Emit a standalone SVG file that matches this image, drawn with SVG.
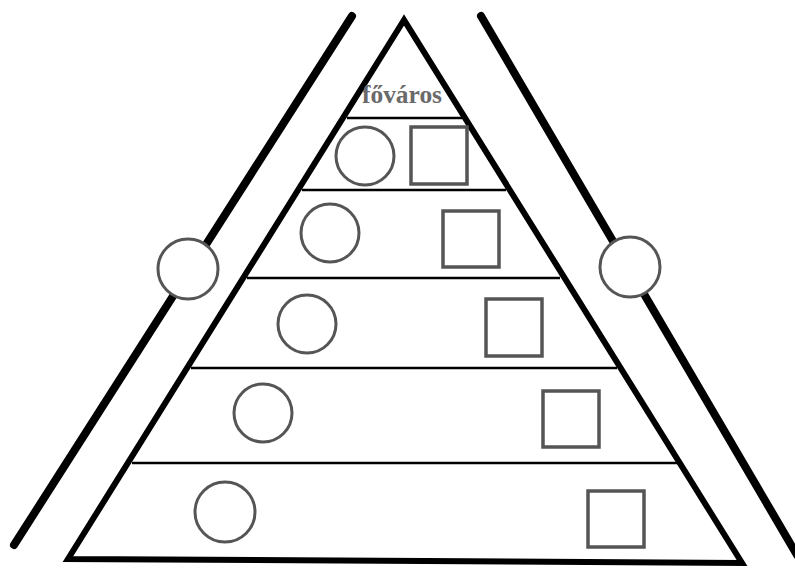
<svg xmlns="http://www.w3.org/2000/svg" width="795" height="570" viewBox="0 0 795 570">
<style>
.bold{stroke:#000;stroke-width:8;stroke-linecap:round;fill:none}
.tri{stroke:#000;stroke-width:6;stroke-linejoin:miter;fill:none}
.hl{stroke:#000;stroke-width:2.5}
.c{fill:#fff;stroke:#555;stroke-width:3}
.s{fill:#fff;stroke:#555;stroke-width:3.5}
.t{font-family:"Liberation Serif",serif;font-weight:bold;font-size:25px;fill:#6a6a6a}
</style>
<rect width="795" height="570" fill="#fff"/>
<g id="outer-lines">
<line class="bold" x1="352" y1="16" x2="14" y2="545"/>
<line class="bold" x1="481" y1="16" x2="797" y2="555"/>
</g>
<g id="pyramid">
<path class="tri" d="M404,20 L68,559 L742,563 Z"/>
<line class="hl" x1="347" y1="118" x2="462" y2="118"/>
<line class="hl" x1="302" y1="190" x2="506" y2="190"/>
<line class="hl" x1="247" y1="278" x2="560" y2="278"/>
<line class="hl" x1="191" y1="368" x2="617" y2="368"/>
<line class="hl" x1="132" y1="463" x2="678" y2="463"/>
</g>
<g id="label">
<text class="t" x="362" y="103" textLength="80" lengthAdjust="spacingAndGlyphs">főváros</text>
</g>
<g id="left-node"><circle class="c" cx="188" cy="269" r="30"/></g>
<g id="right-node"><circle class="c" cx="630" cy="267" r="30"/></g>
<g id="row1"><circle class="c" cx="365" cy="156" r="29"/><rect class="s" x="411" y="127" width="56" height="57"/></g>
<g id="row2"><circle class="c" cx="330" cy="233" r="29"/><rect class="s" x="443" y="211" width="56" height="56"/></g>
<g id="row3"><circle class="c" cx="307" cy="324" r="29"/><rect class="s" x="486" y="299" width="56" height="57"/></g>
<g id="row4"><circle class="c" cx="263" cy="413" r="29"/><rect class="s" x="543" y="391" width="56" height="56"/></g>
<g id="row5"><circle class="c" cx="225" cy="512" r="30"/><rect class="s" x="588" y="491" width="56" height="56"/></g>
</svg>
